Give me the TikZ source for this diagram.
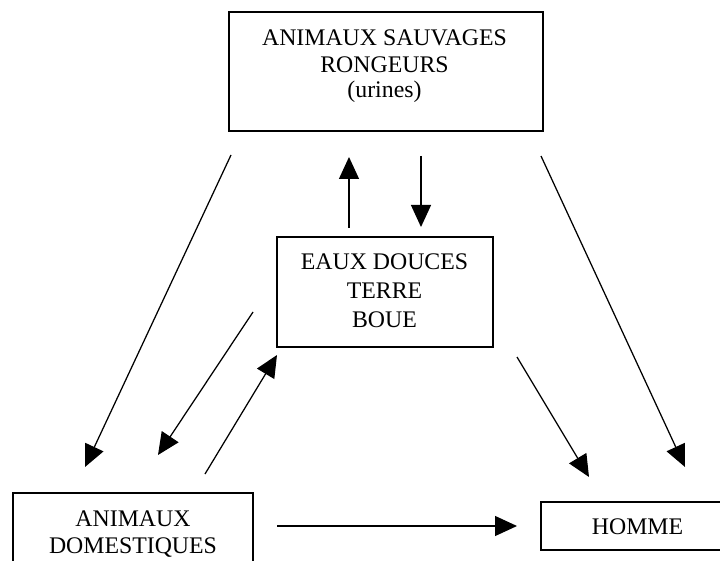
\documentclass[tikz,border=0pt]{standalone}
\usepackage{fontspec}
\setmainfont{Liberation Serif}
\usetikzlibrary{arrows.meta}
\begin{document}
\begin{tikzpicture}[x=1pt,y=-1pt,
  box/.style={draw,line width=1.3pt,rectangle,inner sep=0pt},
  txt/.style={anchor=base,inner sep=0pt,font=\fontsize{23.8}{28}\selectfont},
  arr/.style={line width=1.25pt,-{Triangle[length=22pt,width=20pt]}}]
\useasboundingbox (0,0) rectangle (720,561);
% boxes
\node[box,minimum width=314pt,minimum height=119pt] (sauv) at (386,71.5) {};
\node[box,minimum width=216pt,minimum height=110pt] (eaux) at (385,292) {};
\node[box,minimum width=240pt,minimum height=82pt] (dom) at (133,534) {};
\node[box,minimum width=193pt,minimum height=48pt] (homme) at (637.5,526) {};
% texts
\node[txt] (s1) at (384.5,46) {ANIMAUX SAUVAGES};
\node[txt] (s2) at (384.5,72.3) {RONGEURS};
\node[txt] (s3) at (384.5,98) {(urines)};
\node[txt] (e1) at (384.5,270) {EAUX DOUCES};
\node[txt] (e2) at (384.5,298.5) {TERRE};
\node[txt] (e3) at (384.5,327) {BOUE};
\node[txt] (d1) at (133,526) {ANIMAUX};
\node[txt] (d2) at (133,553) {DOMESTIQUES};
\node[txt] (h1) at (637.5,534) {HOMME};
% arrow end points
\coordinate (a1s) at (231,155); \coordinate (a1e) at (85,467);
\coordinate (a2s) at (253,312); \coordinate (a2e) at (158,455);
\coordinate (a3s) at (205,474); \coordinate (a3e) at (277,355);
\coordinate (a4s) at (349,228); \coordinate (a4e) at (349,157);
\coordinate (a5s) at (421,156); \coordinate (a5e) at (421,227);
\coordinate (a6s) at (517,357); \coordinate (a6e) at (589,477);
\coordinate (a7s) at (541,156); \coordinate (a7e) at (685,467);
\coordinate (a8s) at (277,526); \coordinate (a8e) at (517,526);
\draw[arr] (a1s) -- (a1e);
\draw[arr] (a2s) -- (a2e);
\draw[arr] (a3s) -- (a3e);
\draw[arr] (a4s) -- (a4e);
\draw[arr] (a5s) -- (a5e);
\draw[arr] (a6s) -- (a6e);
\draw[arr] (a7s) -- (a7e);
\draw[arr] (a8s) -- (a8e);
\end{tikzpicture}
\end{document}
